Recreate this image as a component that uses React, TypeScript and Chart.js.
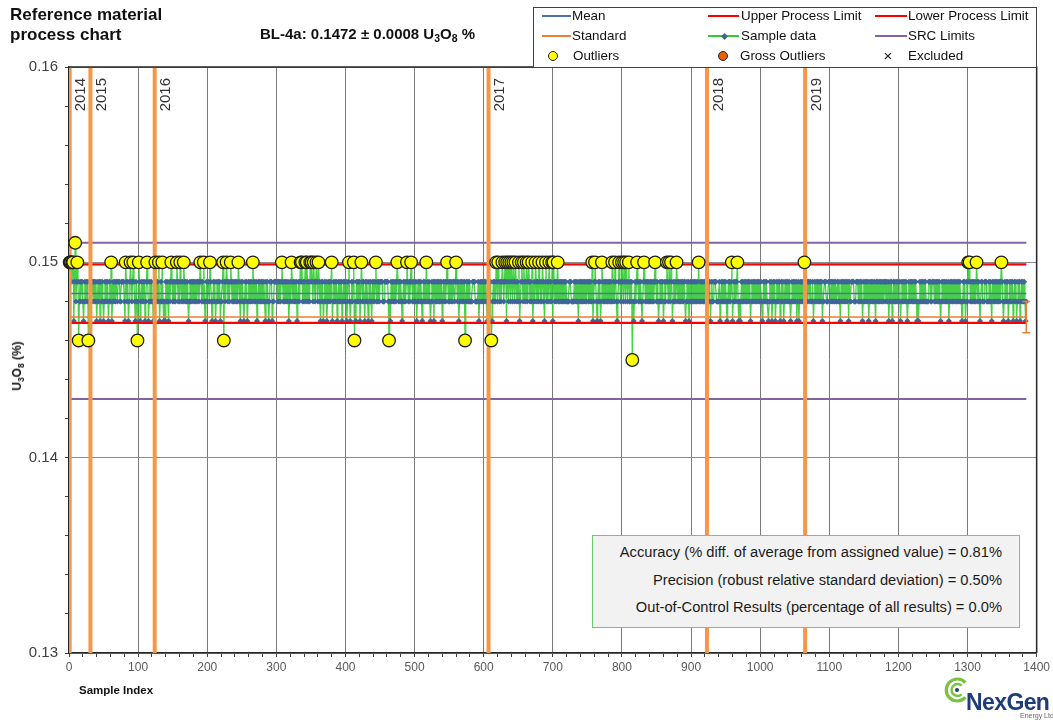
import React, { useEffect, useRef } from "react";
import { Chart, registerables } from "chart.js";

Chart.register(...registerables);

// ---------------------------------------------------------------------------
// DATA
// Each character is one analysed sample, in order of sample index.
// Code -> U3O8 (%): 5 = 0.145, 6 = 0.146, 7 = 0.147, 8 = 0.148, 9 = 0.149, 0 = 0.150, 1 = 0.151
// ---------------------------------------------------------------------------
const SAMPLES_0001_0100 = "0009007918 9096898998 7898989689 8989989897 8989798987 8989897898 0789898998 9998899998 7098978909 8909879868";
const SAMPLES_0101_0200 = "0978989897 8909789898 8789098980 7898087879 8987989098 9898909898 0989809898 9878989899 8989899890 9898087898";
const SAMPLES_0201_0300 = "8980987898 9789898978 8906989098 9890989898 9898098798 9878989789 8989809898 9789898989 8987989878 9997889999";
const SAMPLES_0301_0400 = "9898989098 9898989789 8098989897 8989090898 9080989809 0980989098 0987989789 8978989890 7898989789 8989789898";
const SAMPLES_0401_0500 = "9789087898 9068798989 7809898798 9879898798 9890898989 9998889999 9868798989 8989098989 8789898909 8989098989";
const SAMPLES_0501_0600 = "8978989898 7898980898 9878989798 9898989897 8989890989 8989899890 9897898989 8968989898 8889999888 8978989898";
const SAMPLES_0601_0700 = "9898798989 6789898098 0989890989 0970980980 9809809898 0789098098 9089098980 7898098980 9898098790 8989089807";
const SAMPLES_0701_0800 = "0989890898 9898989898 8889998888 9898987989 8989898989 9898980789 0987898978 0989898989 8989808980 9878909890";
const SAMPLES_0801_0900 = "9809809890 8989587898 9098989878 9098989898 9898989098 9878989897 8989098098 0978989809 8989898989 9789897898";
const SAMPLES_0901_1000 = "9898989898 0898989898 9898989789 8899998888 9789898989 8789898907 8989890878 7898989898 9898978989 8989898989";
const SAMPLES_1001_1100 = "9878989898 8789897898 9789898978 9897898989 8987898989 8978978989 8980898989 9898897898 9898989897 8899988899";
const SAMPLES_1101_1200 = "9898989898 8989879898 9898989798 8999988899 9898989789 8989897898 9898987989 8989898989 9898978989 7898989898";
const SAMPLES_1201_1300 = "8978989898 9878989898 9898987878 9898989898 8889998899 9898989898 7898989898 8978989898 9898989898 8789897898";
const SAMPLES_1301_1385 = "0908989898 9809898789 9888999888 9898798989 8989898909 8789898978 9898978989 7898978989 89878";

const SAMPLE_SEGMENTS = [
  SAMPLES_0001_0100, SAMPLES_0101_0200, SAMPLES_0201_0300, SAMPLES_0301_0400,
  SAMPLES_0401_0500, SAMPLES_0501_0600, SAMPLES_0601_0700, SAMPLES_0701_0800,
  SAMPLES_0801_0900, SAMPLES_0901_1000, SAMPLES_1001_1100, SAMPLES_1101_1200,
  SAMPLES_1201_1300, SAMPLES_1301_1385,
];

const CODE_TO_VALUE: Record<string, number> = {
  "5": 0.145, "6": 0.146, "7": 0.147, "8": 0.148, "9": 0.149, "0": 0.15, "1": 0.151,
};

const ASSIGNED_VALUE = 0.1472;
const ASSIGNED_UNCERTAINTY = 0.0008;
const MEAN_VALUE = 0.1484;
const UPPER_PROCESS_LIMIT = 0.1499;
const LOWER_PROCESS_LIMIT = 0.1469;
const SRC_LIMITS = [0.151, 0.143];

const YEAR_LABELS = ["2014", "2015", "2016", "2017", "2018", "2019"];
const YEAR_FIRST_INDEX = [1, 31, 124, 607, 923, 1065];

const X_MIN = 0;
const X_MAX = 1400;
const Y_MIN = 0.13;
const Y_MAX = 0.16;

const STATS_LINES = [
  "Accuracy (% diff. of average from assigned value) = 0.81%",
  "Precision (robust relative standard deviation) = 0.50%",
  "Out-of-Control Results (percentage of all results) = 0.0%",
];

// ---------------------------------------------------------------------------
// Derived tables for the library
// ---------------------------------------------------------------------------
const sampleValues = SAMPLE_SEGMENTS.join("")
  .replace(/\s/g, "")
  .split("")
  .map((c) => CODE_TO_VALUE[c]);
const samplePoints = sampleValues.map((y, i) => ({ x: i + 1, y }));
const outlierPoints = samplePoints.filter(
  (p) => p.y > UPPER_PROCESS_LIMIT || p.y < LOWER_PROCESS_LIMIT
);
const lastIndex = samplePoints.length;
const hLine = (y: number) => [
  { x: 1, y },
  { x: lastIndex, y },
];

// ---------------------------------------------------------------------------
// Styles
// ---------------------------------------------------------------------------
const FONT = '"Liberation Sans", Arial, Helvetica, sans-serif';
const MEAN_COLOR = "#4F71A8";
const LIMIT_COLOR = "#FF0000";
const STANDARD_COLOR = "#ED7D31";
const SRC_COLOR = "#8064A2";
const GREEN = "rgba(51, 204, 51, 0.9)";
const BLUE = "#3F6699";
const YEAR_COLOR = "#F79646";
const OUTLIER_FILL = "#FFFF00";
const GROSS_FILL = "#E8600A";

const isMajorX = (v: any) => Math.abs(Number(v) / 100 - Math.round(Number(v) / 100)) < 1e-6;
const isMajorY = (v: any) => Math.abs(Number(v) * 100 - Math.round(Number(v) * 100)) < 1e-6;

const overlayPlugin = {
  id: "qcOverlay",
  afterDatasetsDraw(chart: any) {
    const { ctx, chartArea, scales } = chart;
    const xs = scales.x;
    const ys = scales.y;
    ctx.save();
    // assigned value uncertainty bar at the end of the Standard line
    const ex = xs.getPixelForValue(lastIndex);
    const eTop = ys.getPixelForValue(ASSIGNED_VALUE + ASSIGNED_UNCERTAINTY);
    const eBot = ys.getPixelForValue(ASSIGNED_VALUE - ASSIGNED_UNCERTAINTY);
    ctx.strokeStyle = STANDARD_COLOR;
    ctx.lineWidth = 1.5;
    ctx.beginPath();
    ctx.moveTo(ex, eTop);
    ctx.lineTo(ex, eBot);
    ctx.moveTo(ex - 4, eTop);
    ctx.lineTo(ex + 4, eTop);
    ctx.moveTo(ex - 4, eBot);
    ctx.lineTo(ex + 4, eBot);
    ctx.stroke();

    // year labels
    ctx.fillStyle = "#333333";
    ctx.font = `15px ${FONT}`;
    ctx.textAlign = "right";
    ctx.textBaseline = "middle";
    YEAR_FIRST_INDEX.forEach((idx, k) => {
      const px = xs.getPixelForValue(idx);
      ctx.save();
      ctx.translate(px + 11.5, chartArea.top + 11);
      ctx.rotate(-Math.PI / 2);
      ctx.fillText(YEAR_LABELS[k], 0, 0);
      ctx.restore();
    });

    // top and right frame
    ctx.strokeStyle = "#262626";
    ctx.lineWidth = 1.5;
    ctx.beginPath();
    ctx.moveTo(chartArea.left, chartArea.top);
    ctx.lineTo(chartArea.right, chartArea.top);
    ctx.lineTo(chartArea.right, chartArea.bottom);
    ctx.stroke();
    ctx.restore();
  },
};

function LegendLine({ x1, x2, cy, color, width }: any) {
  return (
    <div
      style={{
        position: "absolute",
        left: x1,
        top: cy - width / 2,
        width: x2 - x1,
        height: width,
        background: color,
      }}
    />
  );
}

function LegendText({ x, cy, children }: any) {
  return (
    <div
      style={{
        position: "absolute",
        left: x,
        top: cy - 10,
        height: 20,
        lineHeight: "20px",
        fontSize: 13.4,
        color: "#111",
        whiteSpace: "nowrap",
      }}
    >
      {children}
    </div>
  );
}

function LegendDot({ cx, cy, fill }: any) {
  return (
    <div
      style={{
        position: "absolute",
        left: cx - 5,
        top: cy - 5,
        width: 10,
        height: 10,
        borderRadius: "50%",
        background: fill,
        border: "1.3px solid #222",
        boxSizing: "border-box",
      }}
    />
  );
}

const Sub = ({ children }: any) => (
  <span style={{ fontSize: "0.7em", position: "relative", top: "0.3em" }}>{children}</span>
);

export default function App() {
  const canvasRef = useRef<HTMLCanvasElement | null>(null);

  useEffect(() => {
    const canvas = canvasRef.current;
    if (!canvas) return;

    const lineSet = (label: string, y: number, color: string, width: number) => ({
      label,
      data: hLine(y),
      showLine: true,
      borderColor: color,
      borderWidth: width,
      pointRadius: 0,
      pointHoverRadius: 0,
      order: 2,
    });

    const datasets: any[] = [
      {
        label: "Outliers",
        data: outlierPoints,
        showLine: false,
        pointRadius: 6.3,
        pointHoverRadius: 6.3,
        pointBackgroundColor: OUTLIER_FILL,
        pointBorderColor: "#1e1e1e",
        pointBorderWidth: 1.3,
        order: 0,
        clip: false,
      },
      ...YEAR_FIRST_INDEX.map((idx, k) => ({
        label: YEAR_LABELS[k],
        data: [
          { x: idx, y: Y_MIN },
          { x: idx, y: Y_MAX },
        ],
        showLine: true,
        borderColor: YEAR_COLOR,
        borderWidth: 4,
        pointRadius: 0,
        pointHoverRadius: 0,
        order: 1,
      })),
      lineSet("SRC Limits", SRC_LIMITS[0], SRC_COLOR, 2),
      lineSet("SRC Limits lower", SRC_LIMITS[1], SRC_COLOR, 2),
      lineSet("Upper Process Limit", UPPER_PROCESS_LIMIT, LIMIT_COLOR, 2.2),
      lineSet("Lower Process Limit", LOWER_PROCESS_LIMIT, LIMIT_COLOR, 2.2),
      lineSet("Standard", ASSIGNED_VALUE, STANDARD_COLOR, 1.5),
      lineSet("Mean", MEAN_VALUE, MEAN_COLOR, 1.5),
      {
        label: "Sample data",
        data: samplePoints,
        showLine: true,
        borderColor: GREEN,
        borderWidth: 1.3,
        pointStyle: "rectRot",
        pointRadius: 3,
        pointHoverRadius: 3,
        pointBackgroundColor: BLUE,
        pointBorderWidth: 0,
        order: 3,
      },
    ];

    const chart = new Chart(canvas, {
      type: "scatter",
      data: { datasets },
      options: {
        responsive: false,
        maintainAspectRatio: false,
        devicePixelRatio: 1,
        animation: false,
        events: [],
        layout: { padding: { left: 0, top: 67, right: 16, bottom: 0 } },
        plugins: {
          legend: { display: false },
          tooltip: { enabled: false },
          title: { display: false },
        },
        scales: {
          x: {
            type: "linear",
            min: X_MIN,
            max: X_MAX,
            afterFit: (s: any) => {
              s.height = 70;
            },
            border: { display: true, color: "#262626", width: 1.5 },
            grid: {
              color: (c: any) => (isMajorX(c.tick ? c.tick.value : 0) ? "#7a7a7a" : "rgba(0,0,0,0)"),
              lineWidth: 1,
              tickColor: "#404040",
              tickLength: 4,
              drawTicks: true,
            },
            ticks: {
              stepSize: 20,
              autoSkip: false,
              maxRotation: 0,
              minRotation: 0,
              padding: 3,
              color: "#595959",
              font: { family: FONT, size: 12 },
              callback: (v: any) => (isMajorX(v) ? String(Math.round(Number(v))) : ""),
            },
          },
          y: {
            type: "linear",
            min: Y_MIN,
            max: Y_MAX,
            afterFit: (s: any) => {
              s.width = 69;
            },
            border: { display: true, color: "#262626", width: 1.5 },
            grid: {
              color: (c: any) => (isMajorY(c.tick ? c.tick.value : 0) ? "#8a8a8a" : "rgba(0,0,0,0)"),
              lineWidth: 1,
              tickColor: "#404040",
              tickLength: 4,
              drawTicks: true,
            },
            ticks: {
              stepSize: 0.002,
              autoSkip: false,
              padding: 7,
              color: "#404040",
              font: { family: FONT, size: 15 },
              callback: (v: any) => (isMajorY(v) ? Number(v).toFixed(2) : ""),
            },
          },
        },
      } as any,
      plugins: [overlayPlugin as any],
    });

    return () => {
      chart.destroy();
    };
  }, []);

  const rowY = [16, 36, 56];

  return (
    <div
      style={{
        position: "absolute",
        left: 0,
        top: 0,
        width: 1053,
        height: 723,
        background: "#ffffff",
        overflow: "hidden",
        fontFamily: FONT,
      }}
    >
      <canvas
        ref={canvasRef}
        width={1053}
        height={723}
        style={{ position: "absolute", left: 0, top: 0, width: 1053, height: 723 }}
      />

      {/* Title */}
      <div
        style={{
          position: "absolute",
          left: 10,
          top: 5,
          fontSize: 17,
          fontWeight: "bold",
          lineHeight: "20px",
          color: "#111",
        }}
      >
        Reference material
        <br />
        process chart
      </div>
      <div
        style={{
          position: "absolute",
          left: 260,
          top: 25,
          fontSize: 15,
          fontWeight: "bold",
          lineHeight: "18px",
          color: "#111",
          whiteSpace: "nowrap",
        }}
      >
        BL-4a: 0.1472 ± 0.0008 U<Sub>3</Sub>O<Sub>8</Sub> %
      </div>

      {/* Legend */}
      <div
        style={{
          position: "absolute",
          left: 533,
          top: 7,
          width: 504,
          height: 61,
          border: "1px solid #404040",
          background: "#ffffff",
          boxSizing: "border-box",
        }}
      />
      <LegendLine x1={542} x2={571} cy={rowY[0]} color={MEAN_COLOR} width={1.5} />
      <LegendText x={572} cy={rowY[0]}>Mean</LegendText>
      <LegendLine x1={708} x2={739} cy={rowY[0]} color={LIMIT_COLOR} width={2.5} />
      <LegendText x={741} cy={rowY[0]}>Upper Process Limit</LegendText>
      <LegendLine x1={875} x2={907} cy={rowY[0]} color={LIMIT_COLOR} width={2.5} />
      <LegendText x={908} cy={rowY[0]}>Lower Process Limit</LegendText>

      <LegendLine x1={542} x2={571} cy={rowY[1]} color={STANDARD_COLOR} width={1.5} />
      <LegendText x={572} cy={rowY[1]}>Standard</LegendText>
      <LegendLine x1={708} x2={739} cy={rowY[1]} color="#33CC33" width={1.5} />
      <div
        style={{
          position: "absolute",
          left: 721.5,
          top: rowY[1] - 2.5,
          width: 5,
          height: 5,
          background: BLUE,
          transform: "rotate(45deg)",
        }}
      />
      <LegendText x={741} cy={rowY[1]}>Sample data</LegendText>
      <LegendLine x1={875} x2={907} cy={rowY[1]} color={SRC_COLOR} width={2} />
      <LegendText x={908} cy={rowY[1]}>SRC Limits</LegendText>

      <LegendDot cx={553} cy={rowY[2]} fill={OUTLIER_FILL} />
      <LegendText x={573} cy={rowY[2]}>Outliers</LegendText>
      <LegendDot cx={723} cy={rowY[2]} fill={GROSS_FILL} />
      <LegendText x={740} cy={rowY[2]}>Gross Outliers</LegendText>
      <div
        style={{
          position: "absolute",
          left: 881,
          top: rowY[2] - 10,
          width: 14,
          height: 20,
          lineHeight: "20px",
          fontSize: 15,
          textAlign: "center",
          color: "#111",
        }}
      >
        ×
      </div>
      <LegendText x={908} cy={rowY[2]}>Excluded</LegendText>

      {/* Axis titles */}
      <div
        style={{
          position: "absolute",
          left: 17,
          top: 366,
          transform: "translate(-50%, -50%) rotate(-90deg)",
          fontSize: 12,
          fontWeight: "bold",
          color: "#111",
          whiteSpace: "nowrap",
        }}
      >
        U<Sub>3</Sub>O<Sub>8</Sub> (%)
      </div>
      <div
        style={{
          position: "absolute",
          left: 79,
          top: 682,
          lineHeight: "16px",
          fontSize: 11.5,
          fontWeight: "bold",
          color: "#111",
          whiteSpace: "nowrap",
        }}
      >
        Sample Index
      </div>

      {/* Statistics box */}
      <div
        style={{
          position: "absolute",
          left: 592,
          top: 535,
          width: 428,
          height: 93,
          border: "1.5px solid #6CCB6C",
          background: "#F2F2F2",
          boxSizing: "border-box",
        }}
      />
      {STATS_LINES.map((t, i) => (
        <div
          key={i}
          style={{
            position: "absolute",
            left: 592,
            width: 410,
            top: [539, 567, 594][i],
            lineHeight: "27px",
            height: 27,
            fontSize: 14.7,
            textAlign: "right",
            color: "#1a1a1a",
            whiteSpace: "nowrap",
          }}
        >
          {t}
        </div>
      ))}

      {/* NexGen logo */}
      <svg
        width={30}
        height={30}
        style={{ position: "absolute", left: 942, top: 675 }}
        viewBox="0 0 30 30"
      >
        <path
          d="M 23.4 7.6 A 11 11 0 1 0 23.4 22.4"
          fill="none"
          stroke="#7AC143"
          strokeWidth={3.2}
        />
        <path
          d="M 19.6 10.6 A 6 6 0 1 0 19.6 19.4"
          fill="none"
          stroke="#7AC143"
          strokeWidth={2.4}
        />
        <circle cx={15} cy={15} r={2} fill="#1D3C78" />
      </svg>
      <div
        style={{
          position: "absolute",
          left: 966,
          top: 691,
          fontSize: 23,
          lineHeight: "23px",
          fontWeight: "bold",
          letterSpacing: -0.6,
          color: "#1D3C78",
          whiteSpace: "nowrap",
        }}
      >
        NexGen
      </div>
      <div
        style={{
          position: "absolute",
          left: 1020,
          top: 712,
          fontSize: 7,
          lineHeight: "8px",
          color: "#666",
          whiteSpace: "nowrap",
        }}
      >
        Energy Ltd.
      </div>
    </div>
  );
}
